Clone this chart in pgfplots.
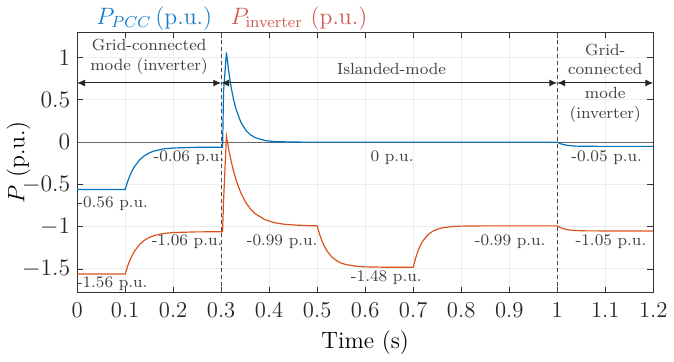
\documentclass[border=0pt]{standalone}
\usepackage{pgfplots}
\pgfplotsset{compat=1.18}
\usetikzlibrary{arrows.meta}
\definecolor{mblue}{RGB}{0,114,189}
\definecolor{morange}{RGB}{217,83,25}
\definecolor{tred}{RGB}{208,88,76}
\definecolor{tblue}{RGB}{20,125,200}
\definecolor{anngray}{RGB}{64,64,64}
\begin{document}
\begin{tikzpicture}
\begin{axis}[
  scale only axis,
  width=292pt, height=132pt,
  xmin=0, xmax=1.2, ymin=-1.78, ymax=1.3,
  xtick={0,0.1,0.2,0.3,0.4,0.5,0.6,0.7,0.8,0.9,1,1.1,1.2},
  xticklabels={0,0.1,0.2,0.3,0.4,0.5,0.6,0.7,0.8,0.9,1,1.1,1.2},
  ytick={-1.5,-1,-0.5,0,0.5,1},
  yticklabels={$-1.5$,$-1$,$-0.5$,$0$,$0.5$,$1$},
  tick align=inside, tick pos=both,
  major tick length=3pt,
  grid=major,
  major grid style={gray!15, line width=0.5pt},
  axis line style={black!80, line width=0.6pt},
  every tick/.style={black!80},
  tick label style={font=\fontsize{11.5}{13}\selectfont, text=black!85},
  xticklabel style={yshift=-1.5pt},
  xlabel={Time (s)},
  ylabel={$P$ (p.u.)},
  label style={font=\fontsize{12}{14}\selectfont},
  xlabel style={yshift=0.5pt},
  ylabel style={yshift=-11pt},
  clip=false,
]
% zero line
\addplot[black!60, line width=0.5pt, forget plot] coordinates {(0,0) (1.2,0)};
% dashed separators
\addplot[black!70, dashed, dash pattern=on 2pt off 1.5pt, line width=0.5pt, forget plot] coordinates {(0.3,-1.78) (0.3,1.3)};
\addplot[black!70, dashed, dash pattern=on 2pt off 1.5pt, line width=0.5pt, forget plot] coordinates {(1.0,-1.78) (1.0,1.3)};
% P_PCC
\addplot[mblue, line width=0.6pt] coordinates {
(0,-0.56) (0.1,-0.56) (0.105,-0.469) (0.110,-0.395) (0.115,-0.334) (0.120,-0.285)
(0.130,-0.211) (0.140,-0.161) (0.150,-0.128) (0.160,-0.105) (0.180,-0.080)
(0.200,-0.069) (0.250,-0.061) (0.303,-0.06) (0.305,0.6) (0.311,1.06)
(0.316,0.826) (0.321,0.643) (0.326,0.501) (0.331,0.390) (0.341,0.236)
(0.351,0.143) (0.361,0.087) (0.371,0.053) (0.391,0.019) (0.411,0.007)
(0.45,0.001) (0.5,0) (1.0,0) (1.005,-0.014) (1.01,-0.024) (1.02,-0.037)
(1.03,-0.043) (1.04,-0.047) (1.06,-0.049) (1.1,-0.05) (1.2,-0.05)
};
% P_inverter
\addplot[morange, line width=0.6pt] coordinates {
(0,-1.56) (0.1,-1.56) (0.105,-1.469) (0.110,-1.395) (0.115,-1.334) (0.120,-1.285)
(0.130,-1.211) (0.140,-1.161) (0.150,-1.128) (0.160,-1.105) (0.180,-1.080)
(0.200,-1.069) (0.250,-1.061) (0.303,-1.06) (0.305,-0.7) (0.311,0.07)
(0.316,-0.093) (0.321,-0.230) (0.326,-0.347) (0.331,-0.446) (0.341,-0.600)
(0.351,-0.711) (0.361,-0.790) (0.371,-0.847) (0.391,-0.916) (0.411,-0.952)
(0.431,-0.971) (0.461,-0.983) (0.5,-0.99)
(0.505,-1.090) (0.510,-1.169) (0.515,-1.232) (0.520,-1.283) (0.530,-1.355)
(0.540,-1.400) (0.550,-1.430) (0.560,-1.448) (0.580,-1.467) (0.600,-1.475)
(0.650,-1.480) (0.700,-1.48)
(0.705,-1.372) (0.710,-1.287) (0.715,-1.221) (0.720,-1.170) (0.730,-1.099)
(0.740,-1.056) (0.750,-1.030) (0.760,-1.014) (0.780,-0.999) (0.800,-0.993)
(0.850,-0.99) (1.0,-0.99) (1.005,-1.004) (1.01,-1.019) (1.02,-1.034)
(1.03,-1.042) (1.04,-1.046) (1.06,-1.049) (1.1,-1.05) (1.2,-1.05)
};
% mode arrows
\draw[{Latex[length=4pt,width=3.5pt]}-{Latex[length=4pt,width=3.5pt]}, black!85, line width=0.5pt] (axis cs:0,0.7) -- (axis cs:0.3,0.7);
\draw[{Latex[length=4pt,width=3.5pt]}-{Latex[length=4pt,width=3.5pt]}, black!85, line width=0.5pt] (axis cs:0.3,0.7) -- (axis cs:1.0,0.7);
\draw[{Latex[length=4pt,width=3.5pt]}-{Latex[length=4pt,width=3.5pt]}, black!85, line width=0.5pt] (axis cs:1.0,0.7) -- (axis cs:1.2,0.7);
\begin{scope}[every node/.style={font=\fontsize{8.2}{10}\selectfont, text=anngray}]
\node[align=center, anchor=south] at (axis cs:0.15,0.72) {Grid-connected\\mode (inverter)};
\node[anchor=south] at (axis cs:0.655,0.72) {Islanded-mode};
\node[align=center] at (axis cs:1.1,0.7) {Grid-\\connected\\[2pt]mode\\(inverter)};
\node at (axis cs:0.074,-0.73) {-0.56 p.u.};
\node at (axis cs:0.233,-0.186) {-0.06 p.u.};
\node at (axis cs:0.073,-1.67) {-1.56 p.u.};
\node at (axis cs:0.229,-1.18) {-1.06 p.u.};
\node at (axis cs:0.427,-1.18) {-0.99 p.u.};
\node at (axis cs:0.656,-0.186) {0 p.u.};
\node at (axis cs:1.103,-0.186) {-0.05 p.u.};
\node at (axis cs:0.644,-1.60) {-1.48 p.u.};
\node at (axis cs:0.902,-1.18) {-0.99 p.u.};
\node at (axis cs:1.112,-1.18) {-1.05 p.u.};
\end{scope}
% titles
\node[text=tblue, font=\fontsize{12}{14}\selectfont] at ([yshift=7pt]rel axis cs:0.134,1) {$P_{PCC}$\,(p.u.)};
\node[text=tred, font=\fontsize{12}{14}\selectfont] at ([yshift=7pt]rel axis cs:0.385,1) {$P_{\mathrm{inverter}}$\ (p.u.)};
\end{axis}
\end{tikzpicture}
\end{document}
